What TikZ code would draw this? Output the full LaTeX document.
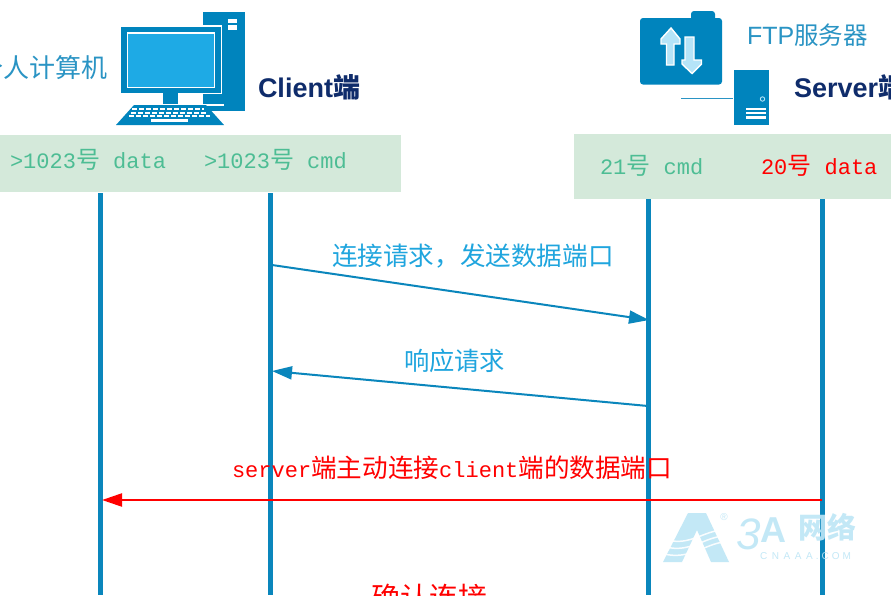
\documentclass[tikz,border=0pt]{standalone}
\usepackage{fontspec}
\setmainfont{Liberation Sans}
\newfontfamily\cjk[Scale=1.0]{Noto Sans CJK SC}
\newfontfamily\mono{Liberation Mono}
\usetikzlibrary{arrows.meta}
\definecolor{lifeblue}{HTML}{0A86BC}
\definecolor{iconblue}{HTML}{0084BD}
\definecolor{screenblue}{HTML}{1EAAE5}
\definecolor{labelblue}{HTML}{2A94C4}
\definecolor{msgblue}{HTML}{1FA5DE}
\definecolor{navy}{HTML}{0F2C6B}
\definecolor{band}{HTML}{D4E9DA}
\definecolor{portgreen}{HTML}{4DBD94}
\definecolor{wm}{HTML}{BDE6F6}
\definecolor{arrowlight}{HTML}{B5E4F8}
\newcommand{\portfont}{\fontsize{22}{24}\selectfont\mono}
\newcommand{\msgfont}{\fontsize{22}{24}\selectfont\mono}
\newcommand{\Han}[1]{{\fontsize{24}{24}\selectfont\cjk #1}}
\newcommand{\HanB}[1]{{\fontsize{25.6}{25}\selectfont\cjk #1}}
\tikzset{
  txt/.style={inner sep=0pt,outer sep=0pt,anchor=west},
  portlabel/.style={txt,font=\portfont,text=portgreen},
  bandbox/.style={fill=band,draw=none,inner sep=0pt,outer sep=0pt,anchor=north west},
  lifeline/.style={line width=5pt,draw=lifeblue},
  msgb/.style={line width=2pt,draw=lifeblue,-{Triangle[length=20pt,width=13pt]}},
  msgr/.style={line width=2.2pt,draw=red,-{Triangle[length=20pt,width=13pt]}},
  iconfill/.style={fill=iconblue,draw=none},
  keyrow/.style={draw=white,line width=2pt,dash pattern=on 4.5pt off 2.5pt},
  updown/.style={fill=arrowlight,draw=white,line width=1.4pt,line join=miter},
}
\begin{document}
\begin{tikzpicture}[x=1pt,y=-1pt]
\path[use as bounding box,clip] (0,0) rectangle (891,595);
\fill[white] (0,0) rectangle (891,595);

% bands
\node[bandbox,minimum width=401pt,minimum height=57pt] (bandL) at (0,135) {};
\node[bandbox,minimum width=317pt,minimum height=65pt] (bandR) at (574,134) {};

% lifeline anchors
\coordinate (d1t) at (100,193); \coordinate (d1b) at (100,595);
\coordinate (c1t) at (270,193); \coordinate (c1b) at (270,595);
\coordinate (c2t) at (648,199); \coordinate (c2b) at (648,595);
\coordinate (d2t) at (822,199); \coordinate (d2b) at (822,595);
\draw[lifeline] (d1t) -- (d1b);
\draw[lifeline] (c1t) -- (c1b);
\draw[lifeline] (c2t) -- (c2b);
\draw[lifeline] (d2t) -- (d2b);

% computer icon
\fill[iconfill] (203,12) rectangle (245,111);
\fill[white] (228,19) rectangle (237,23);
\fill[white] (228,25) rectangle (237,30);
\fill[white] (119,25) rectangle (222,94);
\fill[iconfill] (120.5,26.5) rectangle (220.5,92.5);
\fill[white] (126.5,32) rectangle (215,88);
\fill[screenblue] (128,33.5) rectangle (213.5,86.5);
\fill[iconfill] (163,93) rectangle (178,104);
\fill[white] (203,104) rectangle (224,106);
\fill[iconfill] (134,105) -- (206,105) -- (224,125) -- (116,125) -- cycle;
\draw[keyrow] (132,108.5) -- (204,108.5);
\draw[keyrow] (131,112.5) -- (208,112.5);
\draw[keyrow] (129,116) -- (210,116);
\fill[white] (151,118.5) rectangle (188,121.5);

% server icon
\fill[iconfill,rounded corners=3pt] (691,11) rectangle (715,30);
\fill[iconfill,rounded corners=3pt] (640,18) rectangle (722,84.5);
\filldraw[updown] (666.5,65) -- (666.5,44) -- (661,44) -- (661,39) -- (671,28) -- (680,39) -- (680,44) -- (674,44) -- (674,65) -- cycle;
\filldraw[updown] (685,37) -- (685,60) -- (682,60) -- (682,64) -- (692,73.5) -- (701.5,64) -- (701.5,60) -- (694,60) -- (694,37) -- cycle;
\fill[white] (732,68) rectangle (770,126);
\fill[iconfill] (734,69.5) rectangle (769,125);
\coordinate (srvL) at (681,98.5); \coordinate (srvR) at (733,98.5);
\draw[draw=labelblue,line width=1.5pt] (srvL) -- (srvR);
\draw[draw=arrowlight,line width=0.9pt] (762.5,99) circle (2.2);
\fill[white] (746,107.5) rectangle (766,110);
\fill[white] (746,111.8) rectangle (766,114.3);
\fill[white] (746,116) rectangle (766,118.5);

% captions
\node[inner sep=0pt,anchor=east,font=\fontsize{26}{28}\selectfont\cjk,text=labelblue] (pcname) at (108,68) {个人计算机};
\node[txt,font=\bfseries\fontsize{27}{28}\selectfont,text=navy] (clientname) at (258,87) {Client{\cjk 端}};
\node[txt,font=\fontsize{25}{28}\selectfont,text=labelblue] (ftpname) at (747,35) {FTP{\fontsize{24.5}{28}\selectfont\cjk 服务器}};
\node[txt,font=\bfseries\fontsize{27}{28}\selectfont,text=navy] (servername) at (794,87) {Server{\cjk 端}};

% ports
\node[portlabel] (p1) at (10,160) {>1023\Han{号} data};
\node[portlabel] (p2) at (204,160) {>1023\Han{号} cmd};
\node[portlabel] (p3) at (600,166) {21\Han{号} cmd};
\node[portlabel,text=red] (p4) at (761,166) {20\Han{号} data};

% messages
\coordinate (m1s) at (272,265); \coordinate (m1e) at (649,320);
\coordinate (m2s) at (648,406); \coordinate (m2e) at (272,371);
\coordinate (m3s) at (822,500); \coordinate (m3e) at (102,500);
\draw[msgb] (m1s) -- (m1e);
\draw[msgb] (m2s) -- (m2e);
\draw[msgr] (m3s) -- (m3e);
\node[txt,font=\fontsize{25.6}{28}\selectfont\cjk,text=msgblue] (t1) at (332,256) {连接请求，发送数据端口};
\node[txt,font=\fontsize{25.3}{28}\selectfont\cjk,text=msgblue] (t2) at (404,361) {响应请求};
\node[txt,font=\msgfont,text=red] (t3) at (232,468) {server\HanB{端主动连接}client\HanB{端的数据端口}};
\node[txt,font=\fontsize{29}{30}\selectfont\cjk,text=red] (t4) at (371,597) {确认连接};

% watermark
\begin{scope}[opacity=.9]
\fill[wm] (688,513) -- (706,513) -- (729,562) -- (711,562) -- (697,530) -- (682,562) -- (663,562) -- cycle;
\draw[white,line width=1.5pt] (668,540) .. controls (690,546) and (705,530) .. (724,530);
\draw[white,line width=1.5pt] (666,547) .. controls (690,553) and (705,537) .. (724,536);
\draw[white,line width=1.5pt] (664,554) .. controls (690,560) and (705,544) .. (724,542);
\node[inner sep=0pt,font=\fontsize{10}{10}\selectfont,text=wm] (wmr) at (724,517) {®};
\node[txt,font=\itshape\fontsize{44}{44}\selectfont,text=wm] (wm3) at (736,534) {3};
\node[txt,font=\bfseries\fontsize{36}{36}\selectfont,text=wm] (wma) at (760,530) {A};
\node[txt,font=\bfseries\fontsize{29}{29}\selectfont\cjk,text=wm] (wmc) at (798,527) {网络};
\node[txt,font=\fontsize{10}{10}\selectfont,text=wm] (wmd) at (760,556) {C\hspace{4.6pt}N\hspace{4.6pt}A\hspace{4.6pt}A\hspace{4.6pt}A\hspace{3pt}.\hspace{3pt}C\hspace{3pt}O\hspace{3pt}M};
\end{scope}
\end{tikzpicture}
\end{document}
